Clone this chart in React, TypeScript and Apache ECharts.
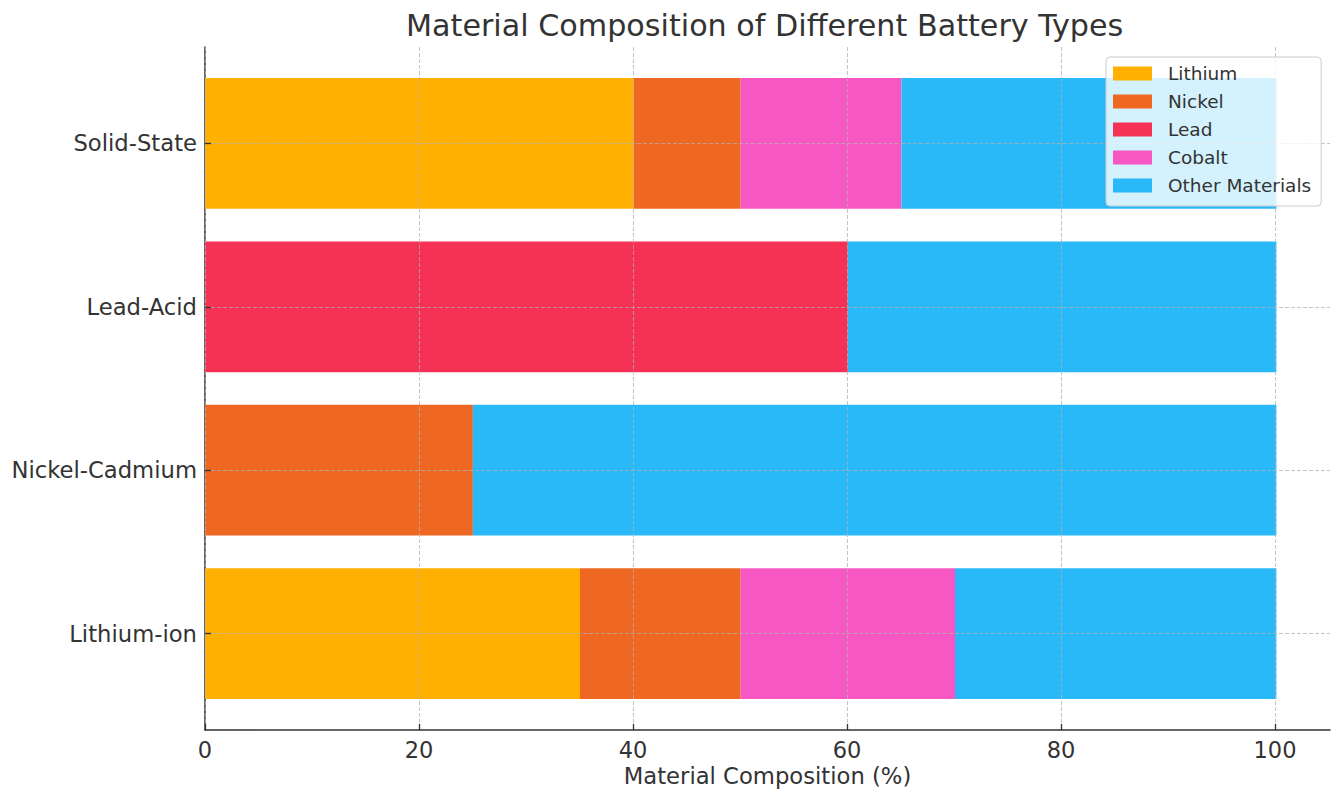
import React, { useEffect, useRef } from "react";
import * as echarts from "echarts";

const categories = ["Lithium-ion", "Nickel-Cadmium", "Lead-Acid", "Solid-State"];
const seriesNames = ["Lithium", "Nickel", "Lead", "Cobalt", "Other Materials"];
const lithium = [35, 0, 0, 40];
const nickel = [15, 25, 0, 10];
const lead = [0, 0, 60, 0];
const cobalt = [20, 0, 0, 15];
const other = [30, 75, 40, 35];
const xTicks = [0, 20, 40, 60, 80, 100];

const colors = ["#FFB000", "#EF6823", "#F53155", "#F657C3", "#29B8F8"];
const FONT = "DejaVu Sans";
const TEXT = "#333333";

export default function App() {
  const ref = useRef<HTMLDivElement>(null);
  useEffect(() => {
    if (!ref.current) return;
    const chart = echarts.init(ref.current, null, { renderer: "svg" });
    const values = [lithium, nickel, lead, cobalt, other];
    const dashed = { color: "#b0b0b0", opacity: 0.75, width: 1, type: [4, 2] as number[] };
    chart.setOption({
      animation: false,
      backgroundColor: "#ffffff",
      textStyle: { fontFamily: FONT },
      title: {
        text: "Material Composition of Different Battery Types",
        left: 406,
        top: 10,
        padding: 0,
        textStyle: { fontFamily: FONT, fontSize: 30.2, fontWeight: "normal", color: TEXT },
      },
      legend: {
        data: seriesNames,
        orient: "vertical",
        left: 1106,
        top: 57,
        padding: [7, 10, 11, 7],
        itemWidth: 39,
        itemHeight: 14,
        itemGap: 9,
        icon: "rect",
        backgroundColor: "rgba(255,255,255,0.8)",
        borderColor: "#cccccc",
        borderWidth: 1,
        borderRadius: 4,
        z: 20,
        textStyle: {
          fontFamily: FONT,
          fontSize: 18.5,
          color: TEXT,
          lineHeight: 14,
          padding: [0, 0, 2, 11],
        },
      },
      grid: [
        { left: 205, right: 62, top: 47, bottom: 60, outerBoundsMode: "none", containLabel: false },
        { left: 205, right: 7, top: 143.4, bottom: 156.4, outerBoundsMode: "none", containLabel: false },
      ],
      xAxis: [
        {
          gridIndex: 0,
          type: "value",
          min: 0,
          max: 100,
          interval: 20,
          z: 10,
          axisLine: { show: false },
          axisTick: { show: true, inside: true, length: 6, lineStyle: { color: "#333", width: 1.3 } },
          axisLabel: {
            fontFamily: FONT,
            fontSize: 22.5,
            color: TEXT,
            margin: 8,
            formatter: (v: number) => (xTicks.includes(v) ? String(v) : ""),
          },
          splitLine: { show: true, lineStyle: dashed },
        },
        {
          gridIndex: 1,
          type: "value",
          min: 0,
          max: 105,
          offset: 96.4,
          position: "bottom",
          axisLine: { show: true, lineStyle: { color: "#333", width: 1.5 } },
          axisTick: { show: false },
          axisLabel: { show: false },
          splitLine: { show: false },
          name: "Material Composition (%)",
          nameLocation: "middle",
          nameGap: 34,
          nameTextStyle: { fontFamily: FONT, fontSize: 22.7, color: TEXT },
        },
      ],
      yAxis: [
        {
          gridIndex: 0,
          type: "value",
          min: 0,
          max: 1,
          axisLine: { show: true, lineStyle: { color: "#333", width: 1.5 } },
          axisTick: { show: false },
          axisLabel: { show: false },
          splitLine: { show: false },
        },
        {
          gridIndex: 1,
          type: "category",
          data: categories,
          boundaryGap: false,
          z: 10,
          axisLine: { show: false },
          axisTick: { show: true, inside: true, length: 6, alignWithLabel: true, lineStyle: { color: "#333", width: 1.3 } },
          axisLabel: { fontFamily: FONT, fontSize: 22.7, color: TEXT, margin: 8 },
          splitLine: { show: true, lineStyle: dashed },
        },
      ],
      series: seriesNames.map((name, i) => ({
        name,
        type: "bar",
        stack: "total",
        xAxisIndex: 1,
        yAxisIndex: 1,
        barWidth: "80%",
        clip: false,
        itemStyle: { color: colors[i] },
        data: values[i],
      })),
    });
    return () => chart.dispose();
  }, []);
  return <div ref={ref} style={{ position: "fixed", left: 0, top: 0, width: 1337, height: 790 }} />;
}
